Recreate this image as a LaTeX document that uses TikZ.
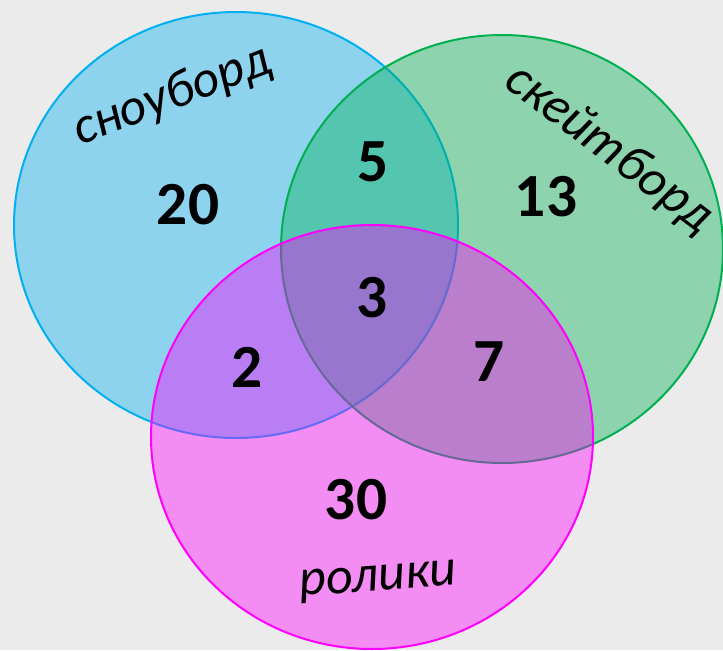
\documentclass[tikz,border=0pt]{standalone}
\usepackage{fontspec}
\setmainfont{Carlito}
\definecolor{bgc}{HTML}{EBEBEB}
\definecolor{cblue}{HTML}{00B0F0}
\definecolor{cgreen}{HTML}{00B050}
\definecolor{cmag}{HTML}{FF00FF}
\begin{document}
\begin{tikzpicture}[x=0.75pt,y=-0.75pt,
  setc/.style={line width=1.5pt, fill opacity=0.4},
  num/.style={font=\bfseries\fontsize{46}{46}\selectfont, inner sep=0pt},
  lab/.style={font=\itshape\fontsize{39}{39}\selectfont, inner sep=0pt}]
\fill[bgc] (0,0) rectangle (723,650);
\useasboundingbox (0,0) rectangle (723,650);
\clip (0,0) rectangle (723,650);
\draw[setc, draw=cblue, fill=cblue] (236,225) ellipse [x radius=166.5pt, y radius=159.75pt];
\draw[setc, draw=cgreen, fill=cgreen] (502,249) ellipse [x radius=165.75pt, y radius=160.5pt];
\draw[setc, draw=cmag, fill=cmag] (372,437) ellipse [x radius=165.75pt, y radius=159pt];
\node[num] (n20) at (188,205) {20};
\node[num] (n5) at (373,162) {5};
\node[num] (n13) at (546,197) {13};
\node[num] (n3) at (372,298) {3};
\node[num] (n2) at (247,367) {2};
\node[num] (n7) at (489,362) {7};
\node[num] (n30) at (356,500) {30};
\node[lab, rotate=21] (snow) at (172,96) {сноуборд};
\node[lab, rotate=-37] (skate) at (609,149) {скейтборд};
\node[lab, rotate=4] (roll) at (378,582) {ролики};
\end{tikzpicture}
\end{document}
